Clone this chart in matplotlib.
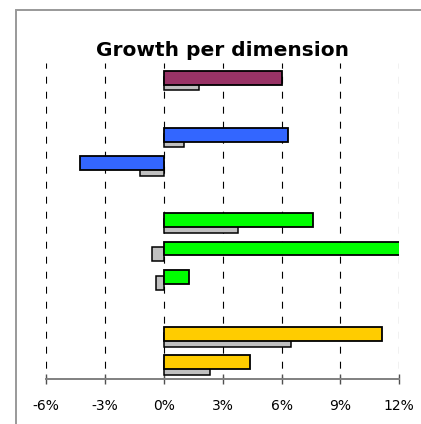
"""Growth per dimension: horizontal bars with prior-period values behind."""

import matplotlib

matplotlib.use("Agg")
import matplotlib.pyplot as plt
from matplotlib.patches import Rectangle
import numpy as np

# one slot per row, top to bottom; None = empty spacer slot
growth = [6.0, None, 6.3, -4.3, None, 7.6, 12.1, 1.3, None, 11.1, 4.4]
prior = [1.8, None, 1.0, -1.2, None, 3.8, -0.6, -0.4, None, 6.5, 2.35]
colors = ["#993366", None, "#3366FF", "#3366FF", None,
          "#00FF00", "#00FF00", "#00FF00", None, "#FFCC00", "#FFCC00"]
ticks = [-6, -3, 0, 3, 6, 9, 12]
tick_labels = [f"{t}%" for t in ticks]

W, H = 421, 424
plt.rcParams["font.family"] = ["DejaVu Sans"]
plt.rcParams["lines.scale_dashes"] = False

fig = plt.figure(figsize=(W / 100, H / 100), dpi=100)
fig.patches.append(Rectangle((16 / W, -0.1), 1.2, 1 - 10 / H + 0.1, transform=fig.transFigure,
                             fill=False, edgecolor="#999999", linewidth=1.4))

left, right, top, bottom = 46.3, 399.3, 63, 379
ax = fig.add_axes([left / W, 1 - bottom / H, (right - left) / W, (bottom - top) / H])
ax.set_xlim(-6, 12)
ax.set_ylim(10.58, -0.51)

rows = np.arange(len(growth))
for y, g, p, c in zip(rows, growth, prior, colors):
    if g is None:
        continue
    ax.barh(y + 0.21, p, height=0.49, color="#C0C0C0", edgecolor="black", linewidth=1.1, zorder=2)
    ax.barh(y, g, height=0.49, color=c, edgecolor="black", linewidth=1.3, zorder=3)

for t in ticks:
    ax.axvline(t, color="black", linewidth=0.8, linestyle=(3, (5.0, 5.8)), zorder=1)

for side in ["left", "right", "top"]:
    ax.spines[side].set_visible(False)
ax.spines["bottom"].set_color("#808080")
ax.spines["bottom"].set_linewidth(1.4)
ax.set_xticks(ticks)
ax.set_xticklabels(tick_labels)
ax.tick_params(axis="x", direction="inout", length=6.5, width=1, color="#505050",
               labelsize=10, pad=11)
ax.set_yticks([])

fig.text(222.5 / W, 1 - 55.5 / H, "Growth per dimension", ha="center", va="baseline",
         fontsize=14.5, fontweight="bold")

fig.savefig("out.png", dpi=100)
